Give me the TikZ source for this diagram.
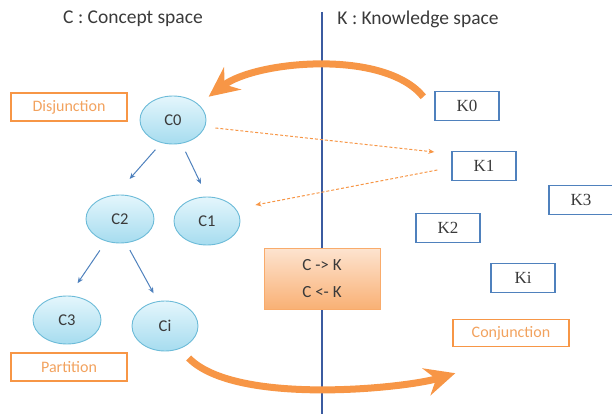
\documentclass[tikz,border=0pt]{standalone}
\usepackage{fontspec}
\setmainfont{Carlito}
\newfontfamily\kfont{Liberation Serif}
\usetikzlibrary{arrows.meta,shapes.geometric}

\definecolor{orng}{HTML}{F79646}
\definecolor{orngtext}{HTML}{F2A25E}
\definecolor{kblue}{HTML}{4F81BD}
\definecolor{axis}{HTML}{3B5BA0}
\definecolor{cyanrim}{HTML}{6CBBD8}
\definecolor{cyantop}{HTML}{E4F6FC}
\definecolor{cyanbot}{HTML}{A6DCEF}
\definecolor{peach}{HTML}{FDE3CF}
\definecolor{darktext}{HTML}{3A3A3A}

\tikzset{
  concept/.style={ellipse, draw=cyanrim, line width=0.9pt, top color=cyantop, bottom color=cyanbot,
    minimum width=66pt, minimum height=48pt, inner sep=0pt, text=darktext, font=\fontsize{16.5}{18}\selectfont},
  know/.style={draw=kblue, line width=1.4pt, minimum width=64pt, minimum height=29pt, inner sep=0pt,
    text=darktext, font=\kfont\fontsize{17}{19}\selectfont},
  note/.style={draw=orng, line width=1.4pt, minimum width=116pt, minimum height=28pt, inner sep=0pt,
    text=orngtext, font=\fontsize{16}{18}\selectfont},
  bridge/.style={draw=orng!80, line width=0.8pt, top color=peach, bottom color=orng!75,
    minimum width=116pt, minimum height=61pt, inner sep=0pt, align=center, text=darktext,
    font=\fontsize{17}{19}\selectfont},
  tree/.style={kblue, line width=1pt, -{Stealth[length=6pt,width=5pt]}},
  dashlink/.style={orng, line width=1pt, dashed, dash pattern=on 3pt off 2pt, -{Stealth[length=6pt,width=5pt]}},
  bigarc/.style={orng, line width=7pt, -{Stealth[length=30pt,width=28pt,inset=10pt]}},
  title/.style={text=darktext, font=\fontsize{19.5}{21}\selectfont}
}

\begin{document}
\begin{tikzpicture}[x=1pt,y=-1pt]
\useasboundingbox (0,0) rectangle (612,414);

% Titles
\node[title] (ctitle) at (133,19) {C : Concept space};
\node[title] (ktitle) at (418,19) {K : Knowledge space};

% Dividing line
\coordinate (top) at (322,12);
\coordinate (bottom) at (322,414);
\draw[axis, line width=1.6pt] (top) -- (bottom);

% Concept space
\node[concept] (C0) at (173,120) {C0};
\node[concept, minimum width=68pt] (C2) at (120,219) {C2};
\node[concept] (C1) at (207,221) {C1};
\node[concept, minimum width=68pt] (C3) at (67,320) {C3};
\node[concept, minimum height=50pt] (Ci) at (165,326) {Ci};

\node[note] (disj) at (69,107) {Disjunction};
\node[note] (part) at (69,367) {Partition};

\draw[tree, shorten <=9pt, shorten >=21pt] (C0.243) -- (C2.100);
\draw[tree, shorten <=9pt, shorten >=14pt] (C0.290) -- (C1.north);
\draw[tree, shorten <=11pt, shorten >=15pt] (C2.238) -- (C3.85);
\draw[tree, shorten <=8pt, shorten >=9pt] (C2.284) -- (Ci.106);

% Knowledge space
\node[know] (K0) at (467,106) {K0};
\node[know] (K1) at (484,166) {K1};
\node[know] (K3) at (581,200) {K3};
\node[know] (K2) at (448,228) {K2};
\node[know] (Ki) at (523,278) {Ki};

\node[note, minimum height=27pt] (conj) at (511,333) {Conjunction};

% Operators between spaces
\node[bridge] (ops) at (322,279) {C -> K\\[8pt]C <- K};

% Dashed links
\draw[dashlink] ([xshift=9pt,yshift=-8pt]C0.east) -- ([xshift=-17pt,yshift=14pt]K1.west);
\draw[dashlink] ([xshift=-14pt,yshift=-4pt]K1.west) -- ([xshift=15pt,yshift=16pt]C1.east);

% Big arcs
\draw[bigarc] ([xshift=-11pt,yshift=-6pt]K0.north west) .. controls +(-39,-48) and +(47,-36) .. ([xshift=12pt,yshift=6pt]C0.north east);
\draw[bigarc] ([yshift=-14pt]Ci.south east) .. controls +(47,48) and +(-50,15) .. ([xshift=3pt,yshift=-26pt]conj.south west);

\end{tikzpicture}
\end{document}
